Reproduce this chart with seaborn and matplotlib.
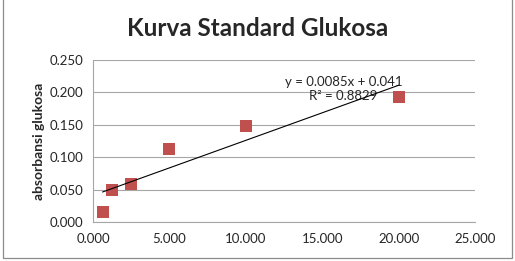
import numpy as np
import matplotlib
matplotlib.use('Agg')
import matplotlib.pyplot as plt
import matplotlib.patches as mpatches
import seaborn as sns

# ── Data ──────────────────────────────────────────────────────────────────────
konsentrasi = [0.625, 1.25, 2.5, 5.0, 10.0, 20.0]
absorbansi = [0.016, 0.050, 0.059, 0.113, 0.148, 0.193]
slope, intercept = 0.0085, 0.041
x_ticks = [0, 5, 10, 15, 20, 25]
y_ticks = [0.0, 0.05, 0.10, 0.15, 0.20, 0.25]

# ── Style ─────────────────────────────────────────────────────────────────────
sns.set_style('white')
plt.rcParams['font.family'] = ['Lato', 'DejaVu Sans']
MARKER = '#C0504D'
GRID = '#A6A6A6'

fig = plt.figure(figsize=(5.15, 2.61), dpi=100)
ax = fig.add_axes([93/515, 1 - 222/261, 382/515, 162/261])

sns.scatterplot(x=konsentrasi, y=absorbansi, marker='s', s=70, color=MARKER,
                edgecolor=MARKER, linewidth=0, ax=ax, zorder=3)
xl = np.array([min(konsentrasi), max(konsentrasi)])
sns.lineplot(x=xl, y=slope * xl + intercept, color='black', linewidth=0.8,
             ax=ax, zorder=4)

ax.set_xlim(0, 25)
ax.set_ylim(0, 0.25)
ax.set_xticks(x_ticks)
ax.set_yticks(y_ticks)
ax.set_xticklabels([f'{v:.3f}' for v in x_ticks], fontsize=9.5)
ax.set_yticklabels([f'{v:.3f}' for v in y_ticks], fontsize=9.5)
ax.tick_params(axis='x', length=0, pad=8)
ax.tick_params(axis='y', length=0, pad=7)
ax.yaxis.grid(True, color=GRID, linewidth=0.8)
ax.xaxis.grid(False)
for s in ['top', 'right']:
    ax.spines[s].set_visible(False)
for s in ['left', 'bottom']:
    ax.spines[s].set_color(GRID)
    ax.spines[s].set_linewidth(0.8)
ax.set_ylabel('absorbansi glukosa', fontsize=10, fontweight='bold', labelpad=3)

ax.text(16.4, 0.205, 'y = 0.0085x + 0.041\nR² = 0.8829', fontsize=9.5,
        ha='center', va='center', linespacing=1.25)

fig.text(0.5, 0.89, 'Kurva Standard Glukosa', fontsize=17.5,
         fontweight='bold', ha='center', va='center')

border = mpatches.Rectangle((3/515, 3/261), 509/515, 262/261, transform=fig.transFigure,
                            fill=False, edgecolor='#8C8C8C', linewidth=0.9)
fig.patches.append(border)

fig.savefig('out.png', dpi=100)
